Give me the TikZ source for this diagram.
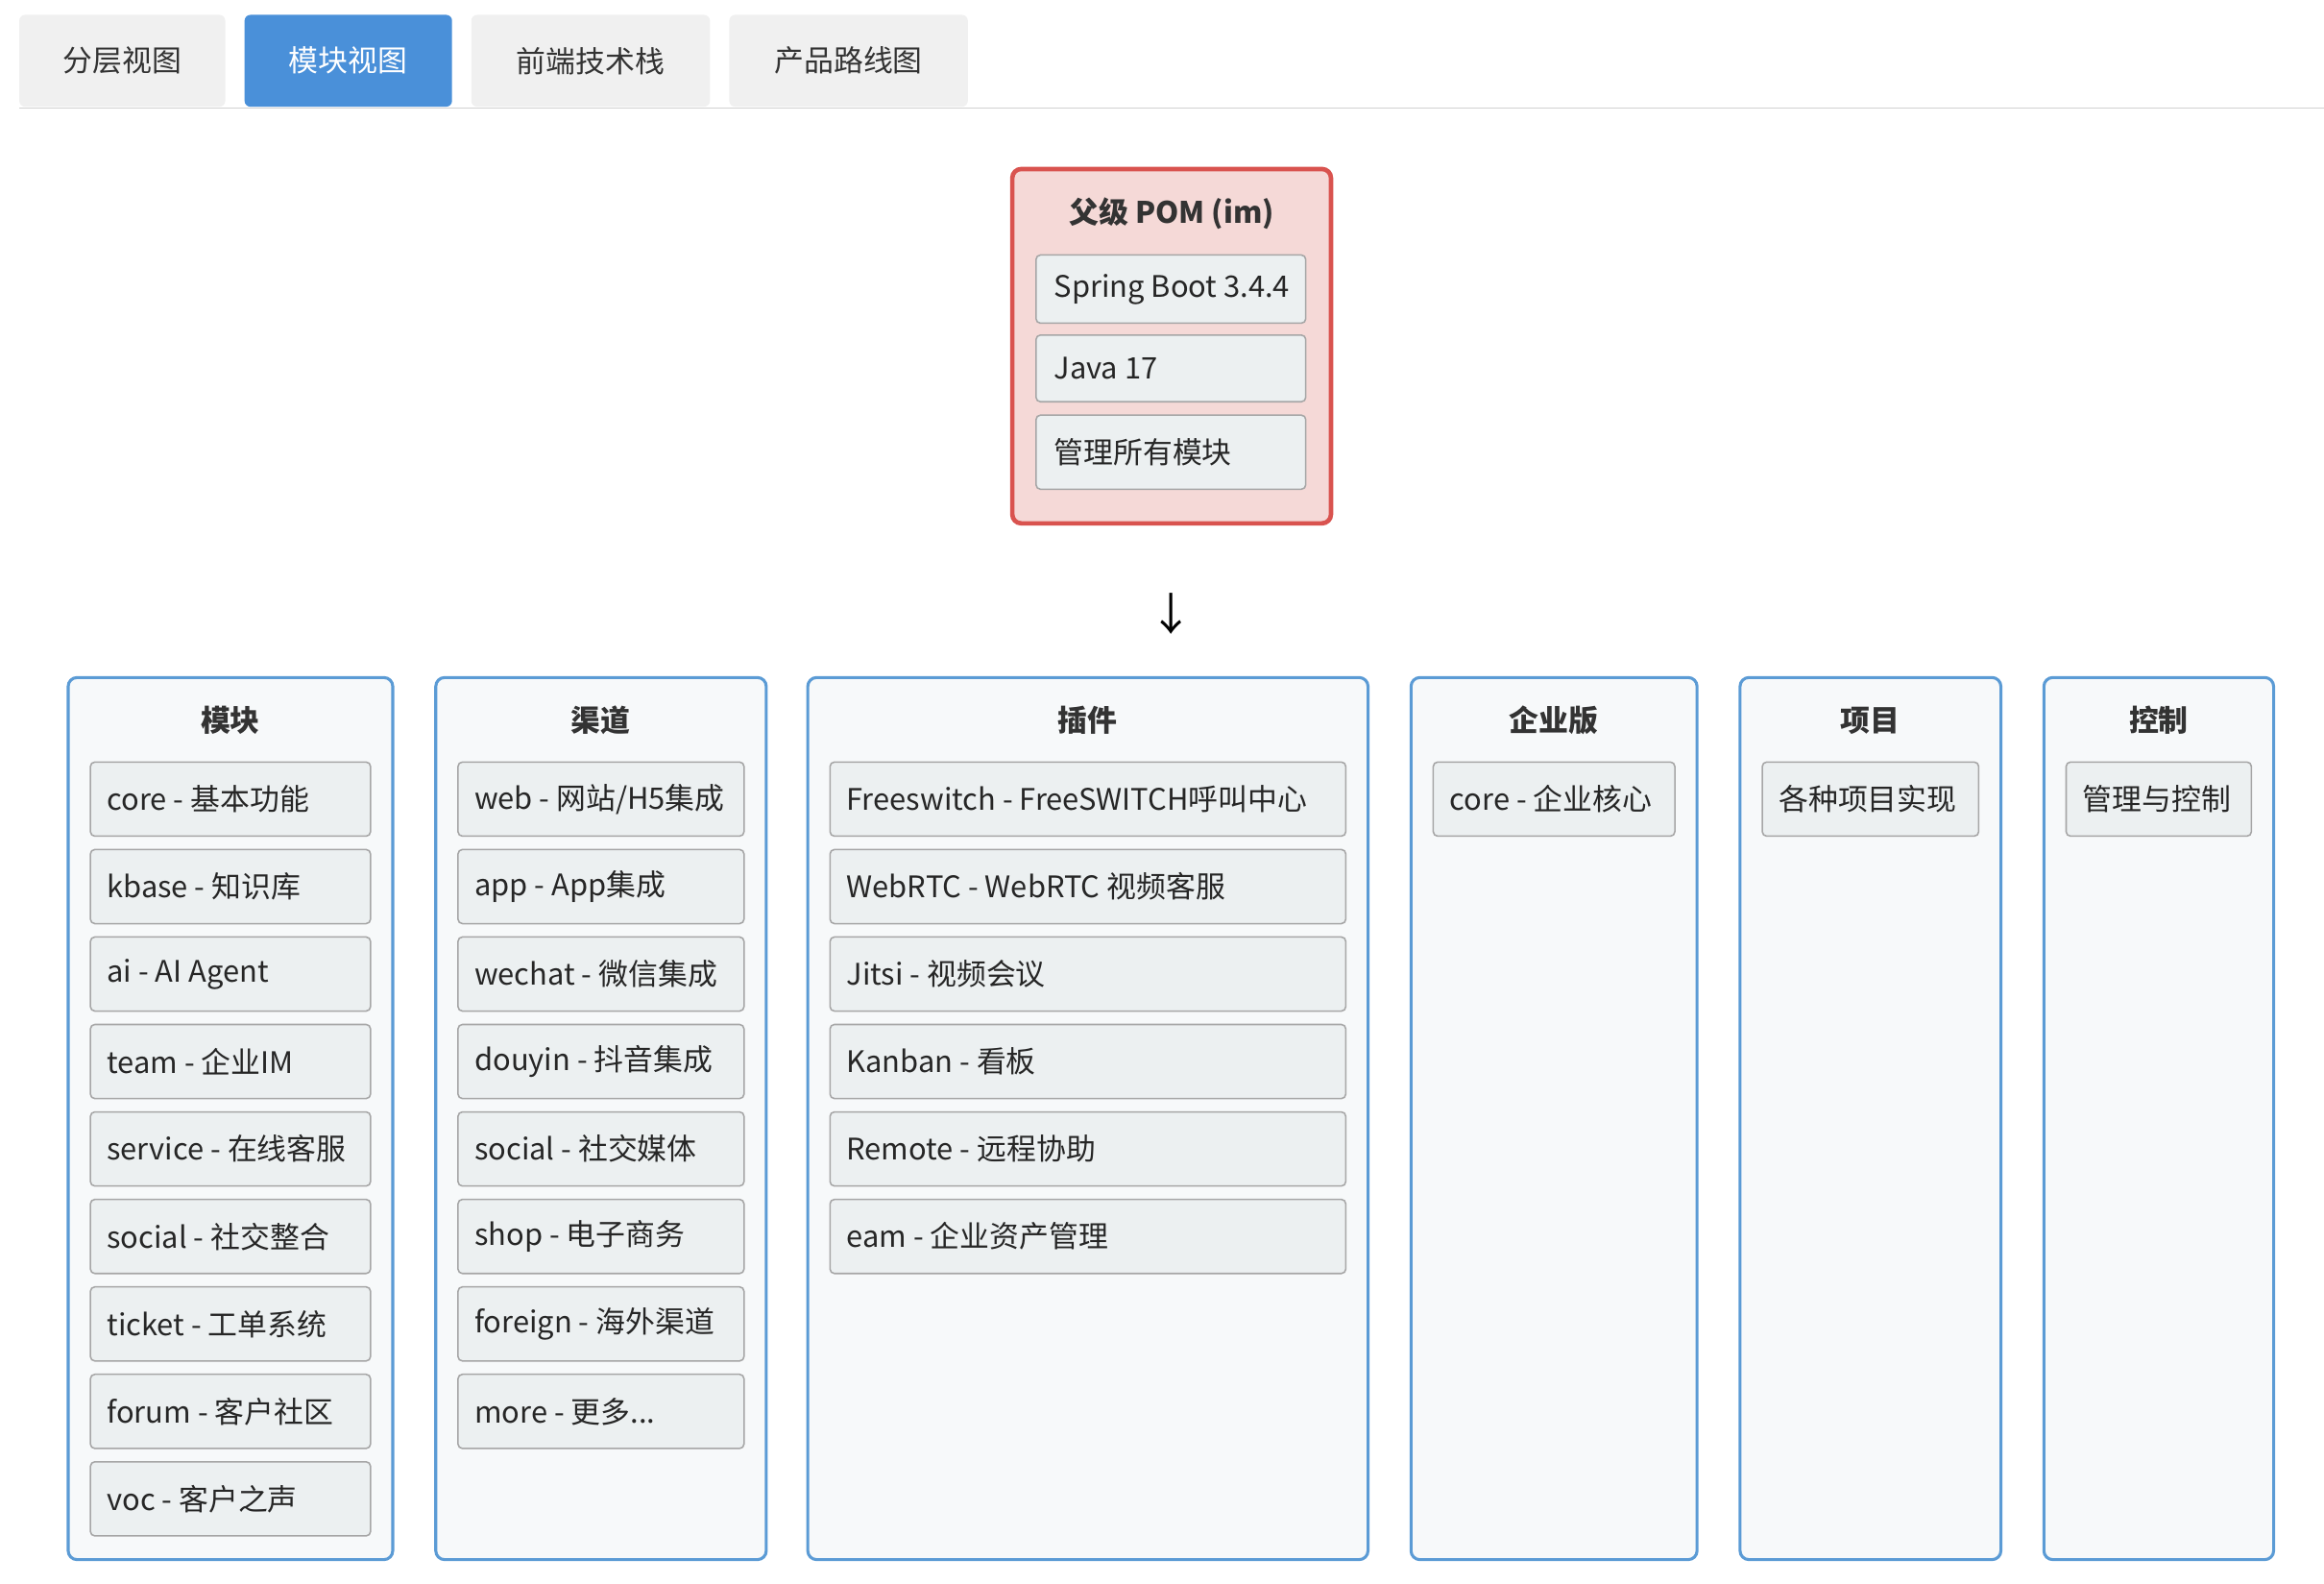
\documentclass[tikz,border=0pt]{standalone}
\usepackage{fontspec}
\setmainfont{Noto Sans CJK SC}
\newcommand\tdots{...}
\begin{document}
\begin{tikzpicture}[x=1pt,y=-1pt,
 tab/.style={fill=gray!12,draw=none,rounded corners=4pt},
 col/.style={draw=colb,fill=colf,line width=2pt,rounded corners=6pt},
 item/.style={draw=gray!70,fill=itf,line width=1pt,rounded corners=3pt},
 txt/.style={font=\fontsize{20}{24}\selectfont,text=black!85,anchor=west,inner sep=0},
 ttl/.style={font=\fontsize{20}{24}\selectfont\bfseries,text=black!80,inner sep=0}]
\definecolor{colb}{HTML}{5B9BD5}\definecolor{colf}{HTML}{F7F9FA}\definecolor{itf}{HTML}{ECF0F1}
\definecolor{tabb}{HTML}{4A90D9}\definecolor{redb}{HTML}{D9534F}\definecolor{pinkf}{HTML}{F5D9D7}
\useasboundingbox (0,0) rectangle (1568,1068);
% tabs
\fill[tab] (13,10) rectangle (152,72); \node[ttl,font=\fontsize{20}{24}\selectfont] (t1) at (82.5,41) {分层视图};
\fill[tab,fill=tabb] (165,10) rectangle (305,72); \node[ttl,font=\fontsize{20}{24}\selectfont,text=white] (t2) at (235,41) {模块视图};
\fill[tab] (318,10) rectangle (479,72); \node[ttl,font=\fontsize{20}{24}\selectfont] (t3) at (398.5,41) {前端技术栈};
\fill[tab] (492,10) rectangle (653,72); \node[ttl,font=\fontsize{20}{24}\selectfont] (t4) at (572.5,41) {产品路线图};
\draw[gray!35,line width=1pt] (13,73) -- (1568,73);
% parent
\draw[draw=redb,fill=pinkf,line width=3pt,rounded corners=6pt] (683,114) rectangle (898,353);
\node[ttl] (pt) at (790.5,144) {父级 POM (im)};
\draw[item] (699,172) rectangle (881,218); \node[txt] (p1) at (711,195) {Spring Boot 3.4.4};
\draw[item] (699,226) rectangle (881,271); \node[txt] (p2) at (711,248.5) {Java 17};
\draw[item] (699,280) rectangle (881,330); \node[txt] (p3) at (711,305) {管理所有模块};
\node[font=\fontsize{30}{34}\selectfont,inner sep=0] (arr) at (790,414) {↓};
% columns
\newcommand{\mkcol}[5]{%
 \draw[col] (#1,457) rectangle (#2,1052);
 \node[ttl] at ({(#1+#2)/2},486) {#3};
 \foreach \t [count=\i from 0] in {#5} {
   \draw[item] (#1+15,514+59*\i) rectangle (#2-15,564+59*\i);
   \node[txt] at (#1+26,539+59*\i) {\t};
 }}
\mkcol{46}{265}{模块}{}{core - 基本功能,kbase - 知识库,ai - AI Agent,team - 企业IM,service - 在线客服,social - 社交整合,ticket - 工单系统,forum - 客户社区,voc - 客户之声}
\mkcol{294}{517}{渠道}{}{web - 网站/H5集成,app - App集成,wechat - 微信集成,douyin - 抖音集成,social - 社交媒体,shop - 电子商务,foreign - 海外渠道,more - 更多\tdots}
\mkcol{545}{923}{插件}{}{Freeswitch - FreeSWITCH呼叫中心,WebRTC - WebRTC 视频客服,Jitsi - 视频会议,Kanban - 看板,Remote - 远程协助,eam - 企业资产管理}
\mkcol{952}{1145}{企业版}{}{core - 企业核心}
\mkcol{1174}{1350}{项目}{}{各种项目实现}
\mkcol{1379}{1534}{控制}{}{管理与控制}
\end{tikzpicture}
\end{document}
